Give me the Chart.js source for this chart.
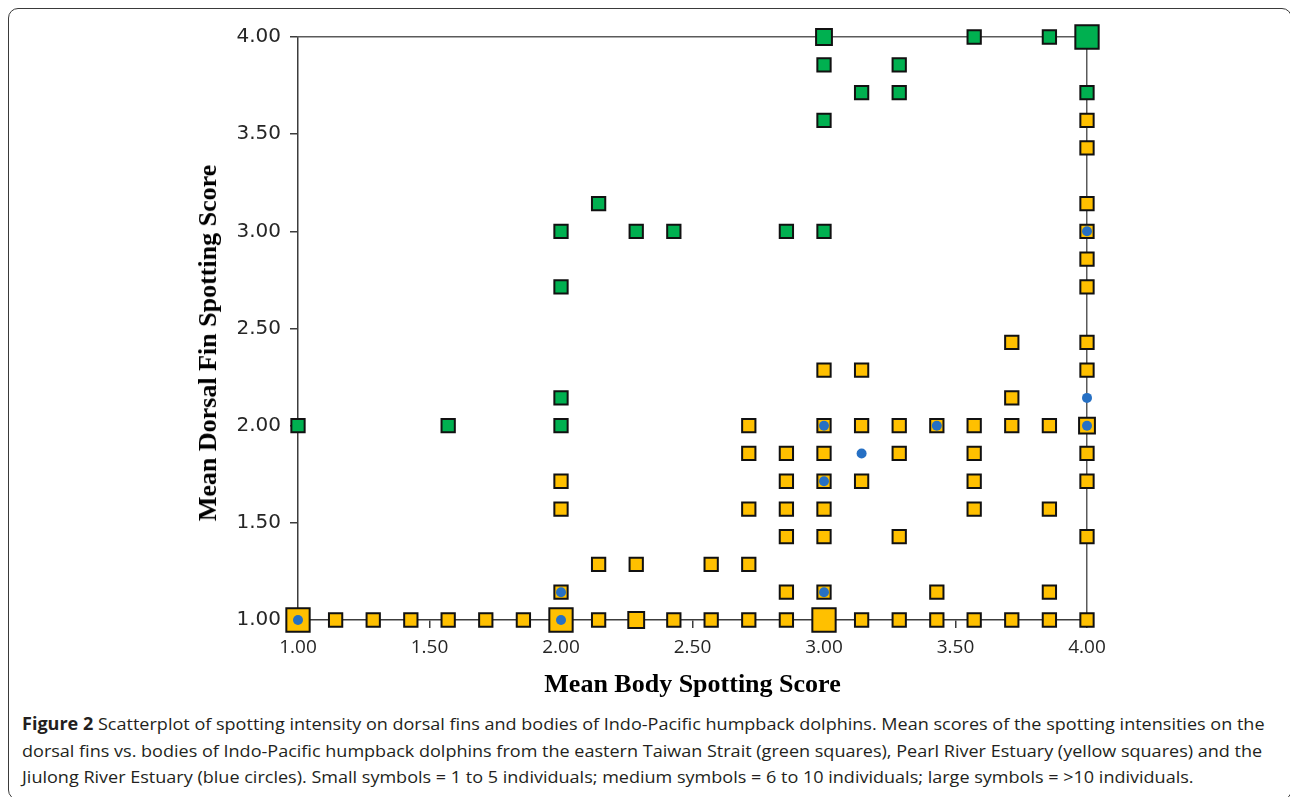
<!DOCTYPE html>
<html lang="en">
<head>
    <meta charset="UTF-8">
    <title>Figure 2 - dorsal fin vs body spotting</title>
    <script src="https://cdn.jsdelivr.net/npm/chart.js@4.4.1/dist/chart.umd.min.js"></script>
    <style>
        html, body {
            margin: 0;
            padding: 0;
            background: #fff;
            overflow: hidden;
        }
        body {
            position: relative;
            width: 1290px;
            height: 797px;
        }
        #frame {
            position: absolute;
            left: 8px;
            top: 8px;
            width: 1284px;
            height: 792px;
            border: 1.5px solid #3a3a3a;
            border-radius: 10px;
            box-sizing: border-box;
        }
        #chartBox {
            position: absolute;
            left: 0;
            top: 0;
            width: 1290px;
            height: 705px;
        }
        /* y title sits a little below the plot centre in the original */
        #yTitle {
            position: absolute;
            left: 208px;
            top: 343px;
            font-family: "Liberation Serif", serif;
            font-weight: bold;
            font-size: 26px;
            color: #000;
            white-space: nowrap;
            transform: translate(-50%, -50%) rotate(-90deg);
        }
        #caption {
            position: absolute;
            left: 22px;
            top: 711px;
            font-family: "Open Sans", sans-serif;
            font-size: 17px;
            line-height: 26.5px;
            color: #231f20;
            white-space: nowrap;
            transform-origin: 0 0;
        }
        #caption span { display: block; }
    </style>
</head>
<body>
    <div id="frame"></div>
    <div id="chartBox"><canvas id="scatter"></canvas></div>
    <div id="yTitle">Mean Dorsal Fin Spotting Score</div>
    <div id="caption">
        <span id="line1"><b>Figure 2</b> Scatterplot of spotting intensity on dorsal fins and bodies of Indo-Pacific humpback dolphins. Mean scores of the spotting intensities on the</span>
        <span>dorsal fins vs. bodies of Indo-Pacific humpback dolphins from the eastern Taiwan Strait (green squares), Pearl River Estuary (yellow squares) and the</span>
        <span>Jiulong River Estuary (blue circles). Small symbols = 1 to 5 individuals; medium symbols = 6 to 10 individuals; large symbols = &gt;10 individuals.</span>
    </div>

    <script>
        // tick labels (both axes)
        const xTicks = [1.00, 1.50, 2.00, 2.50, 3.00, 3.50, 4.00];
        const yTicks = [1.00, 1.50, 2.00, 2.50, 3.00, 3.50, 4.00];

        // eastern Taiwan Strait (green squares)
        const taiwanX = [1.000, 1.571, 2.000, 2.000, 2.000, 2.000, 2.143, 2.286, 2.429, 2.857, 3.000,
                         3.000, 3.000, 3.000, 3.143, 3.286, 3.286, 3.571, 3.857, 4.000, 4.000];
        const taiwanY = [2.000, 2.000, 2.000, 2.143, 2.714, 3.000, 3.143, 3.000, 3.000, 3.000, 3.000,
                         3.571, 3.857, 4.000, 3.714, 3.714, 3.857, 4.000, 4.000, 4.000, 3.714];
        // 1 = 1-5 individuals, 2 = 6-10, 3 = >10
        const taiwanN = [1, 1, 1, 1, 1, 1, 1, 1, 1, 1, 1,
                         1, 1, 2, 1, 1, 1, 1, 1, 3, 1];

        // Pearl River Estuary (yellow squares)
        const pearlX = [
            1.000, 1.143, 1.286, 1.429, 1.571, 1.714, 1.857, 2.000, 2.143, 2.286, 2.429,
            2.571, 2.714, 2.857, 3.000, 3.143, 3.286, 3.429, 3.571, 3.714, 3.857, 4.000,
            2.000, 2.857, 3.000, 3.429, 3.857,
            2.143, 2.286, 2.571, 2.714,
            2.857, 3.000, 3.286, 4.000,
            2.000, 2.714, 2.857, 3.000, 3.571, 3.857,
            2.000, 2.857, 3.000, 3.143, 3.571, 4.000,
            2.714, 2.857, 3.000, 3.286, 3.571, 4.000,
            2.714, 3.000, 3.143, 3.286, 3.429, 3.571, 3.714, 3.857, 4.000,
            3.714,
            3.000, 3.143, 4.000,
            3.714, 4.000,
            4.000, 4.000, 4.000, 4.000, 4.000, 4.000
        ];
        const pearlY = [
            1.000, 1.000, 1.000, 1.000, 1.000, 1.000, 1.000, 1.000, 1.000, 1.000, 1.000,
            1.000, 1.000, 1.000, 1.000, 1.000, 1.000, 1.000, 1.000, 1.000, 1.000, 1.000,
            1.143, 1.143, 1.143, 1.143, 1.143,
            1.286, 1.286, 1.286, 1.286,
            1.429, 1.429, 1.429, 1.429,
            1.571, 1.571, 1.571, 1.571, 1.571, 1.571,
            1.714, 1.714, 1.714, 1.714, 1.714, 1.714,
            1.857, 1.857, 1.857, 1.857, 1.857, 1.857,
            2.000, 2.000, 2.000, 2.000, 2.000, 2.000, 2.000, 2.000, 2.000,
            2.143,
            2.286, 2.286, 2.286,
            2.429, 2.429,
            2.714, 2.857, 3.000, 3.143, 3.429, 3.571
        ];
        const pearlN = [
            3, 1, 1, 1, 1, 1, 1, 3, 1, 2, 1,
            1, 1, 1, 3, 1, 1, 1, 1, 1, 1, 1,
            1, 1, 1, 1, 1,
            1, 1, 1, 1,
            1, 1, 1, 1,
            1, 1, 1, 1, 1, 1,
            1, 1, 1, 1, 1, 1,
            1, 1, 1, 1, 1, 1,
            1, 1, 1, 1, 1, 1, 1, 1, 2,
            1,
            1, 1, 1,
            1, 1,
            1, 1, 1, 1, 1, 1
        ];

        // Jiulong River Estuary (blue circles)
        const jiulongX = [1.000, 2.000, 2.000, 3.000, 3.000, 3.000, 3.143, 3.429, 4.000, 4.000, 4.000];
        const jiulongY = [1.000, 1.000, 1.143, 1.143, 1.714, 2.000, 1.857, 2.000, 2.000, 2.143, 3.000];

        // square radius by group size
        const squareRadius = { 1: 9.4, 2: 11.2, 3: 16.5 };

        function toPoints(xs, ys) {
            return xs.map((x, i) => ({ x: x, y: ys[i] }));
        }

        const axisColor = '#3c3c3c';
        const frameColor = '#5a5a5a';
        const titleFont = { family: 'Liberation Serif', size: 26, weight: 'bold' };

        new Chart(document.getElementById('scatter'), {
            type: 'scatter',
            data: {
                datasets: [
                    {
                        label: 'Jiulong River Estuary',
                        data: toPoints(jiulongX, jiulongY),
                        pointStyle: 'circle',
                        pointRadius: 5,
                        backgroundColor: '#2670c4',
                        borderWidth: 0,
                        clip: false
                    },
                    {
                        label: 'Pearl River Estuary',
                        data: toPoints(pearlX, pearlY),
                        pointStyle: 'rect',
                        pointRadius: pearlN.map(n => squareRadius[n]),
                        backgroundColor: '#ffc000',
                        borderColor: '#111',
                        borderWidth: 2,
                        clip: false
                    },
                    {
                        label: 'eastern Taiwan Strait',
                        data: toPoints(taiwanX, taiwanY),
                        pointStyle: 'rect',
                        pointRadius: taiwanN.map(n => squareRadius[n]),
                        backgroundColor: '#00b050',
                        borderColor: '#111',
                        borderWidth: 2,
                        clip: false
                    }
                ]
            },
            options: {
                responsive: true,
                maintainAspectRatio: false,
                animation: false,
                events: [],
                layout: { padding: { left: 180, top: 37, right: 203, bottom: 0 } },
                plugins: {
                    legend: { display: false },
                    tooltip: { enabled: false }
                },
                scales: {
                    x: {
                        type: 'linear',
                        position: 'bottom',
                        min: 1,
                        max: 4,
                        afterBuildTicks: s => { s.ticks = xTicks.map(v => ({ value: v })); },
                        afterFit: s => { s.height = 85; },
                        grid: { display: true, drawOnChartArea: false, drawTicks: true, tickLength: 8, color: axisColor, lineWidth: 1.5 },
                        border: { display: true, color: axisColor, width: 1.5 },
                        ticks: { callback: v => v.toFixed(2), font: { family: 'Open Sans', size: 19 }, color: '#262626', padding: 8, maxRotation: 0, autoSkip: false },
                        title: { display: true, text: 'Mean Body Spotting Score', font: titleFont, color: '#000', padding: { top: 0, bottom: 4 } }
                    },
                    y: {
                        type: 'linear',
                        position: 'left',
                        min: 1,
                        max: 4,
                        afterBuildTicks: s => { s.ticks = yTicks.map(v => ({ value: v })); },
                        afterFit: s => { s.width = 118; },
                        grid: { display: true, drawOnChartArea: false, drawTicks: true, tickLength: 8, color: axisColor, lineWidth: 1.5 },
                        border: { display: true, color: axisColor, width: 1.5 },
                        ticks: { callback: v => v.toFixed(2), font: { family: 'DejaVu Sans', size: 20 }, color: '#262626', padding: 9, autoSkip: false },
                        title: { display: false }
                    },
                    x2: {
                        type: 'linear',
                        position: 'top',
                        min: 1,
                        max: 4,
                        afterFit: s => { s.height = 0; },
                        grid: { display: false },
                        ticks: { display: false },
                        border: { display: true, color: frameColor, width: 1.5 }
                    },
                    y2: {
                        type: 'linear',
                        position: 'right',
                        min: 1,
                        max: 4,
                        afterFit: s => { s.width = 0; },
                        grid: { display: false },
                        ticks: { display: false },
                        border: { display: true, color: frameColor, width: 1.5 }
                    }
                }
            }
        });

        // squeeze the caption to the reference line length
        const cap = document.getElementById('caption');
        const w = document.getElementById('line1').scrollWidth;
        cap.style.transform = 'scaleX(' + (1243 / w) + ')';
    </script>
</body>
</html>
